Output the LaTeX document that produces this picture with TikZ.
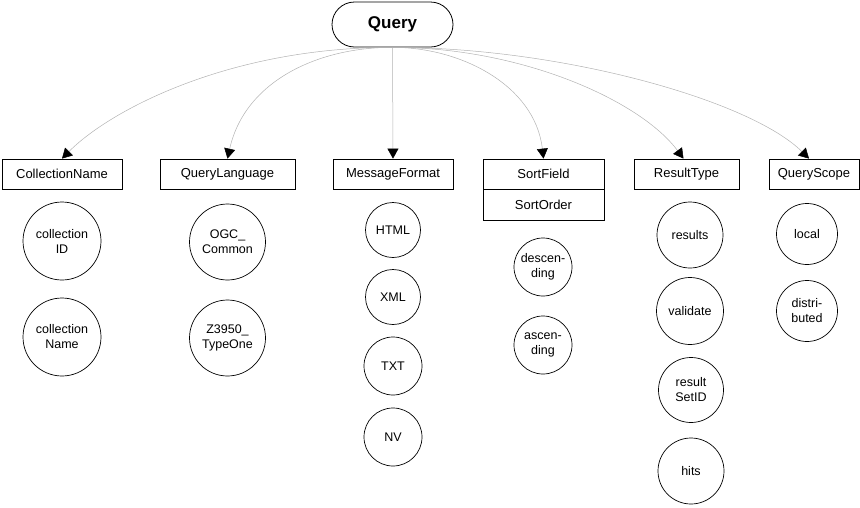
\documentclass[tikz,border=0pt]{standalone}
\usepackage{fontspec}
\setmainfont{Liberation Sans}
\usetikzlibrary{arrows.meta}
\begin{document}
\begin{tikzpicture}[x=1pt,y=-1pt,
  box/.style={draw, line width=0.8pt, minimum height=30pt, inner sep=0pt, font=\fontsize{13}{15}\selectfont},
  val/.style={draw, circle, line width=0.7pt, inner sep=0pt, align=center, font=\fontsize{12.5}{15}\selectfont},
  conn/.style={draw=gray!60, line width=0.5pt, -{Triangle[width=11pt,length=10pt,color=black]}}]
\useasboundingbox (0,0) rectangle (860,507);
% root
\node[draw, line width=0.8pt, minimum width=121pt, minimum height=45pt, rounded corners=22.5pt, inner sep=0pt,
      font=\bfseries\fontsize{17}{20}\selectfont] (q) at (392.5,24.5) {Query};
% category boxes
\node[box, minimum width=120pt] (cn) at (62,174) {CollectionName};
\node[box, minimum width=135pt] (ql) at (227.5,174) {QueryLanguage};
\node[box, minimum width=120pt] (mf) at (393,174) {MessageFormat};
\node[box, minimum width=121pt] (sf) at (543.5,174) {SortField};
\node[box, minimum width=121pt, minimum height=31pt] (so) at (543.5,204.5) {SortOrder};
\node[box, minimum width=105pt] (rt) at (686.5,174) {ResultType};
\node[box, minimum width=90pt] (qs) at (814,174) {QueryScope};
% values
\node[val, minimum size=78pt] (cid) at (62,241) {collection\\ID};
\node[val, minimum size=78pt] (cnm) at (62,337) {collection\\Name};
\node[val, minimum size=76pt] (ogc) at (227.5,242) {OGC\_\\Common};
\node[val, minimum size=76pt] (z39) at (227.5,338) {Z3950\_\\TypeOne};
\node[val, minimum size=55pt] (html) at (393,230) {HTML};
\node[val, minimum size=55pt] (xml) at (393,297) {XML};
\node[val, minimum size=58pt] (txt) at (393,366) {TXT};
\node[val, minimum size=58pt] (nv) at (393,437) {NV};
\node[val, minimum size=58pt] (desc) at (543,267) {descen-\\ding};
\node[val, minimum size=58pt] (asc) at (543,345) {ascen-\\ding};
\node[val, minimum size=66pt] (res) at (690,235) {results};
\node[val, minimum size=67pt] (vld) at (690,311) {validate};
\node[val, minimum size=65pt] (rsid) at (691,390) {result\\SetID};
\node[val, minimum size=66pt] (hits) at (691,471) {hits};
\node[val, minimum size=61pt] (loc) at (807,234) {local};
\node[val, minimum size=61pt] (dist) at (807,311) {distri-\\buted};
% connectors
\draw[conn] (q.south) .. controls (230,47) and (110,110) .. (cn.north);
\draw[conn] (q.south) .. controls (320,47) and (245,80) .. (ql.north);
\draw[conn] (q.south) -- (mf.north);
\draw[conn] (q.south) .. controls (460,47) and (535,85) .. (sf.north);
\draw[conn] (q.south) .. controls (520,47) and (640,100) .. ([xshift=-3pt]rt.north);
\draw[conn] (q.south) .. controls (560,47) and (750,100) .. ([xshift=-5pt]qs.north);
\end{tikzpicture}
\end{document}
